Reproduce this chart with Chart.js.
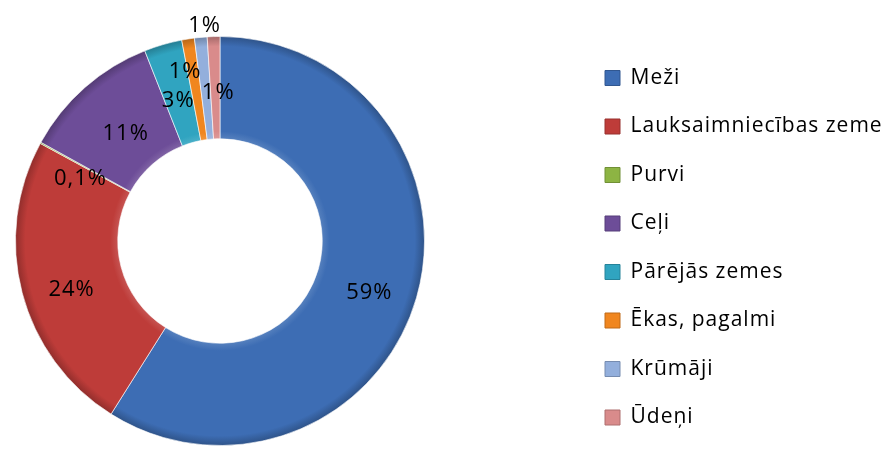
<!DOCTYPE html>
<html lang="lv">
<head>
  <meta charset="UTF-8">
  <title>Zemes lietojums</title>
  <script src="https://cdn.jsdelivr.net/npm/chart.js"></script>
  <style>
    body { margin: 0; background: #fff; }
  </style>
</head>
<body>
  <canvas id="landChart" width="888" height="450"></canvas>

  <script>
    // dati
    const categories = ['Meži', 'Lauksaimniecības zeme', 'Purvi', 'Ceļi', 'Pārējās zemes', 'Ēkas, pagalmi', 'Krūmāji', 'Ūdeņi'];
    const shares = [59, 24, 0.1, 11, 3, 1, 1, 1];
    const shareLabels = ['59%', '24%', '0,1%', '11%', '3%', '1%', '1%', '1%'];
    const colors = ['#3d6db4', '#be3c39', '#8db443', '#6d4d98', '#30a4c0', '#f0861f', '#93afdc', '#d98b8b'];

    // kā excel nobīdīja etiķetes (px)
    const labelNudge = [[2, 9], [0, 10], [-5, 11], [7, 8], [1, 7], [-11, -18], [-1, -63], [3, 5]];

    function shade(hex, f) {
      const n = parseInt(hex.slice(1), 16);
      let r = n >> 16, g = (n >> 8) & 255, b = n & 255;
      const mix = c => f > 0 ? Math.round(c + (255 - c) * f) : Math.round(c * (1 + f));
      return `rgb(${mix(r)},${mix(g)},${mix(b)})`;
    }

    // bevel look: radial gradient across the ring
    function ringFill(ctx) {
      const base = colors[ctx.dataIndex];
      const chart = ctx.chart;
      const area = chart.chartArea;
      if (!area) return base;
      const cx = (area.left + area.right) / 2;
      const cy = (area.top + area.bottom) / 2;
      const outer = Math.min(area.right - area.left, area.bottom - area.top) / 2;
      const inner = outer * 0.5;
      const g = chart.ctx.createRadialGradient(cx, cy, inner, cx, cy, outer);
      g.addColorStop(0, shade(base, 0.12));
      g.addColorStop(0.07, base);
      g.addColorStop(0.9, base);
      g.addColorStop(1, shade(base, -0.25));
      return g;
    }

    const sliceLabels = {
      id: 'sliceLabels',
      afterDatasetsDraw(chart) {
        const ctx = chart.ctx;
        const meta = chart.getDatasetMeta(0);
        ctx.save();
        ctx.font = '22px "Open Sans"';
        ctx.letterSpacing = '1px';
        ctx.fillStyle = '#000';
        ctx.textAlign = 'center';
        ctx.textBaseline = 'middle';
        meta.data.forEach((arc, i) => {
          const p = arc.getCenterPoint();
          ctx.fillText(shareLabels[i], p.x + labelNudge[i][0], p.y + labelNudge[i][1]);
        });
        ctx.restore();
      }
    };

    // legend moved to the right side, chart area stays left
    const legendPlace = {
      id: 'legendPlace',
      afterLayout(chart) {
        const lg = chart.legend;
        const pad = lg.options.labels.padding;
        lg.left = 605 - pad;
        lg.top = 78 - 10.5 - pad;
        lg.right = 888;
        lg.bottom = 600;
      },
      beforeDraw(chart) {
        // excel-ish wide letter spacing for the legend
        chart.ctx.letterSpacing = '1px';
      }
    };

    const ctx = document.getElementById('landChart').getContext('2d');
    const landChart = new Chart(ctx, {
      type: 'doughnut',
      data: {
        labels: categories,
        datasets: [{
          data: shares,
          backgroundColor: ringFill,
          borderColor: 'rgba(255,255,255,0.6)',
          borderWidth: 1
        }]
      },
      options: {
        responsive: false,
        animation: false,
        cutout: '50%',
        layout: {
          padding: { left: 15, top: 36, bottom: 4, right: 463 }
        },
        plugins: {
          tooltip: { enabled: false },
          legend: {
            position: 'chartArea',
            align: 'start',
            labels: {
              font: { family: '"Open Sans"', size: 21 },
              color: '#000',
              boxWidth: 15,
              boxHeight: 15,
              padding: 27.5,
              generateLabels(chart) {
                return categories.map((c, i) => ({
                  text: c,
                  fillStyle: colors[i],
                  strokeStyle: shade(colors[i], -0.2),
                  lineWidth: 1,
                  fontColor: '#000',
                  hidden: false,
                  index: i
                }));
              }
            }
          }
        }
      },
      plugins: [sliceLabels, legendPlace]
    });
  </script>
</body>
</html>
